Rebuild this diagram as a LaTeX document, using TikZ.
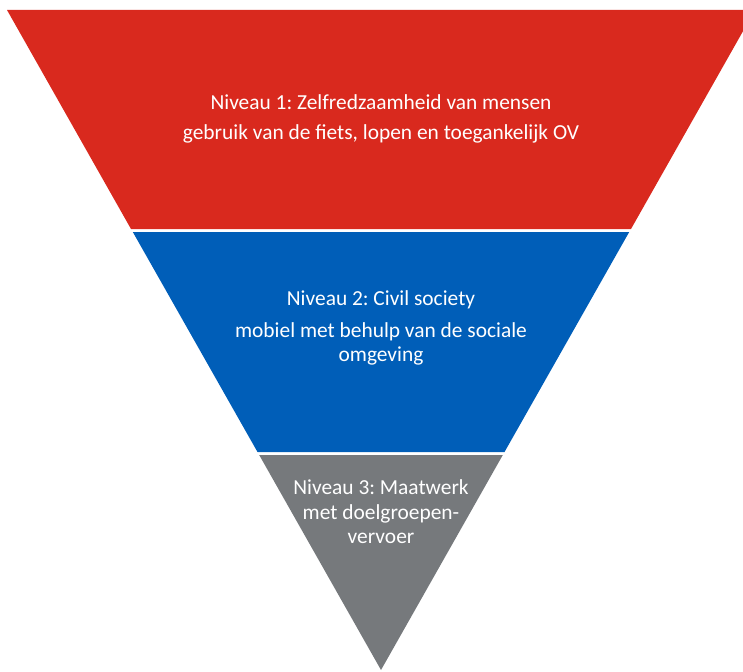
\documentclass[tikz,border=0pt]{standalone}
\usepackage{fontspec}
\setmainfont{Carlito}
\frenchspacing
\definecolor{nred}{RGB}{217,41,30}
\definecolor{nblue}{RGB}{0,94,184}
\definecolor{ngray}{RGB}{118,121,124}
\begin{document}
\begin{tikzpicture}[x=1pt,y=-1pt,
    lbl/.style={text=white,align=center,font=\fontsize{21.4}{24.5}\selectfont,inner sep=0pt}]
    \useasboundingbox(0,0)rectangle(743,671);
    \clip(0,0)rectangle(743,671);
    % the three levels
    \fill[nred](7,10)--(755,10)--(631,229)--(131,229)--cycle;
    \fill[nblue](132.8,232)--(629.2,232)--(504.5,452)--(257.5,452)--cycle;
    \fill[ngray](259.2,455)--(502.8,455)--(381,670)--cycle;
    \node[lbl](n1)at(381,119){Niveau 1: Zelfredzaamheid van mensen\\[5.5pt]gebruik van de fiets, lopen en toegankelijk OV};
    \node[lbl](n2)at(381,328){Niveau 2: Civil society\\[7.5pt]mobiel met behulp van de sociale\\omgeving};
    \node[lbl](n3)at(381,512){Niveau 3: Maatwerk\\met doelgroepen-\\vervoer};
\end{tikzpicture}
\end{document}
